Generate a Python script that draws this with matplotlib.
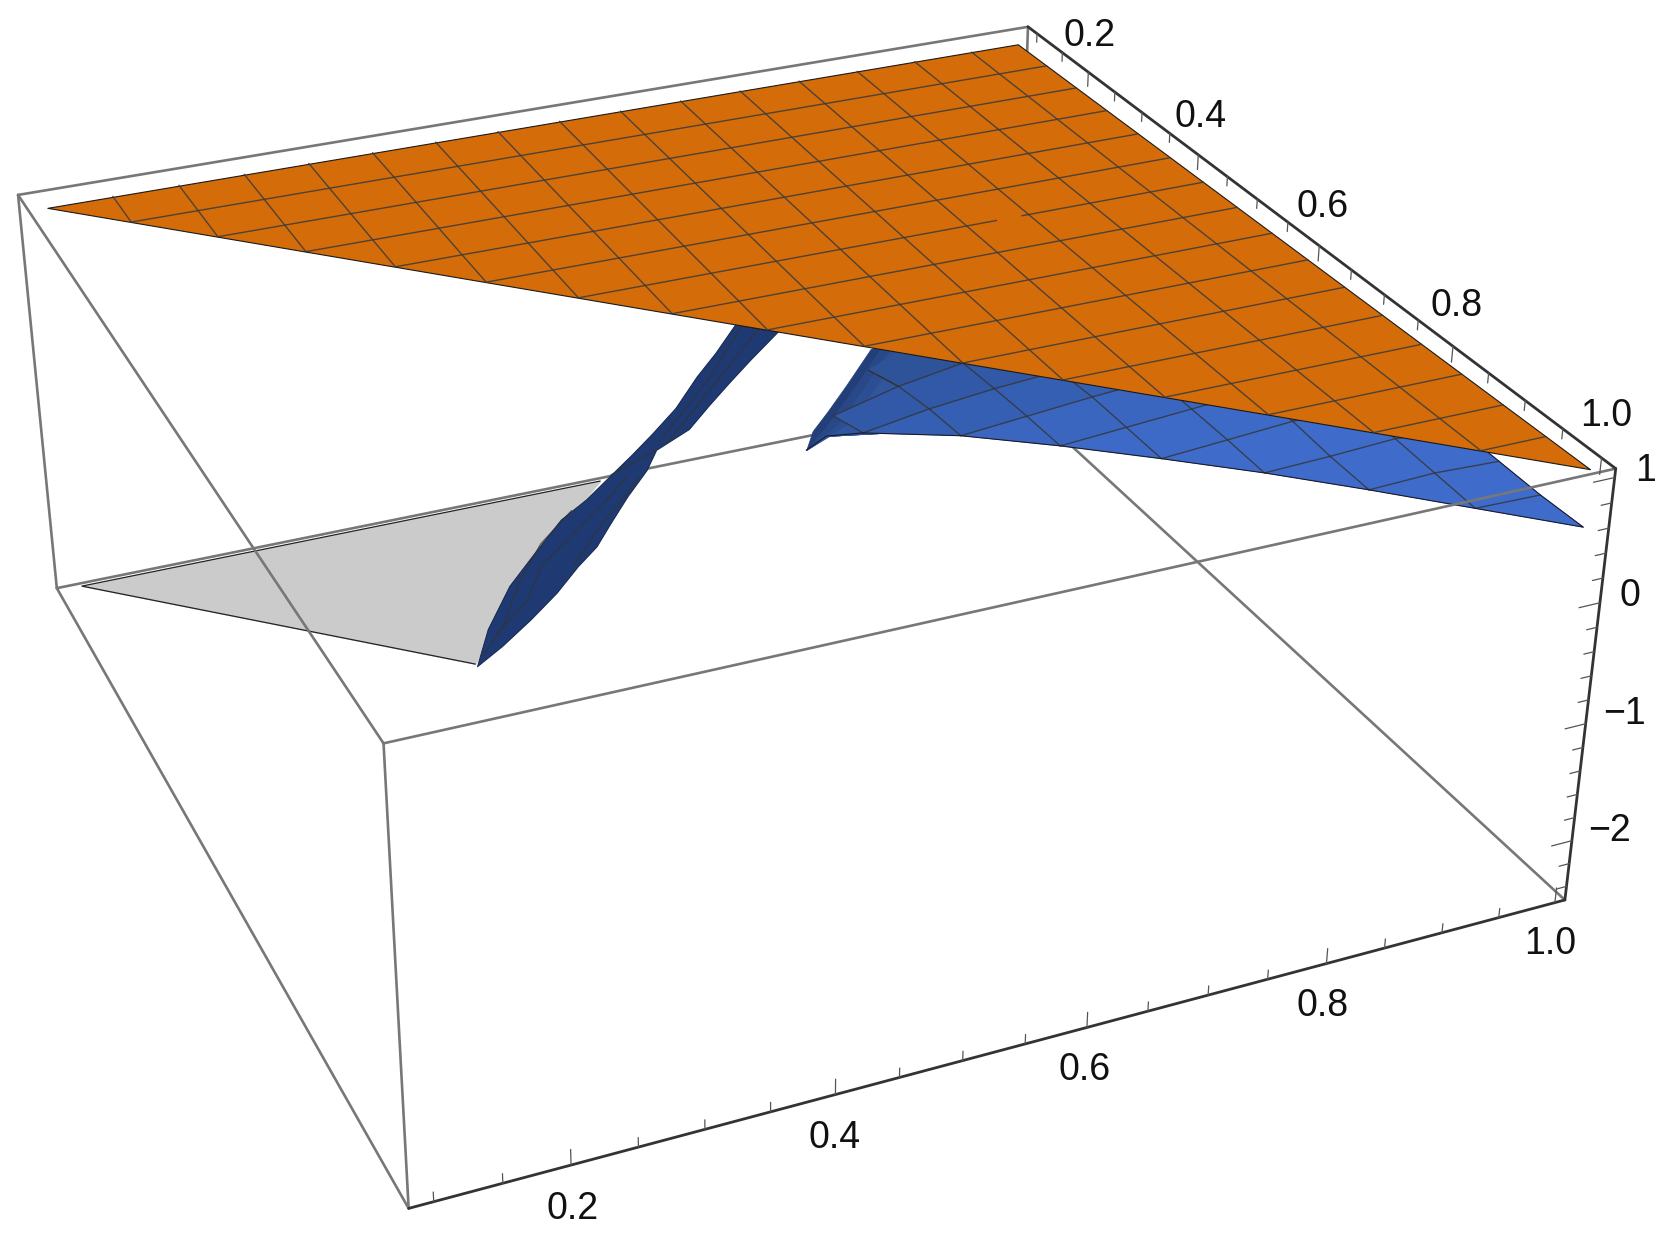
import matplotlib
matplotlib.use('Agg')
import matplotlib.pyplot as plt
import numpy as np
from mpl_toolkits.mplot3d import proj3d
from mpl_toolkits.mplot3d.art3d import Poly3DCollection

W, H = 1670, 1241

# axis ranges
x_lim = (0.082, 1.018)
y_lim = (0.082, 1.009)
z_lim = (-2.52, 1.07)

# tick positions and labels
xy_minor = [0.1, 0.15, 0.25, 0.3, 0.35, 0.45, 0.5, 0.55, 0.65, 0.7, 0.75, 0.85, 0.9, 0.95]
xy_major = [0.2, 0.4, 0.6, 0.8, 1.0]
xy_labels = ['0.2', '0.4', '0.6', '0.8', '1.0']
z_minor = [-2.4, -2.2, -1.8, -1.6, -1.4, -1.2, -0.8, -0.6, -0.4, -0.2, 0.2, 0.4, 0.6, 0.8]
z_major = [-2, -1, 0, 1]
z_labels = ['\u22122', '\u22121', '0', '1']

# mesh levels of both surfaces, index 0 and 16 are the domain edges
mesh = [0.1, 0.15625, 0.2125, 0.26875, 0.325, 0.38125, 0.4375, 0.49375, 0.55,
        0.60625, 0.6625, 0.71875, 0.775, 0.83125, 0.8875, 0.94375, 1.0]

# upper surface, z over y >= x
orange_z = 1.0
orange_x = [0.101, 0.1, 1.0]
orange_y = [0.101, 0.99, 1.0]
orange_gap = (0.802, 0.825)

# lower surface, z at x = mesh[k], y = mesh[k + row], first k of each row below
blue_start = [9, 8, 8, 7, 7]
blue_rows = [
    [0.28, 0.40, 0.46, 0.50, 0.53, 0.54, 0.54, 0.54],
    [0.17, 0.37, 0.45, 0.50, 0.54, 0.55, 0.56, 0.53],
    [0.31, 0.43, 0.50, 0.54, 0.58, 0.58, 0.54],
    [0.20, 0.40, 0.47, 0.54, 0.58, 0.59, 0.55],
    [0.45, 0.45, 0.50, 0.55, 0.58, 0.58],
]
blue_shades = {7: '#2f5399', 8: '#3259a8', 9: '#355fb2', 10: '#3a66c0', 11: '#3d6ac7'}
# outline of the part that runs out to the tip
blue_tip_x = [0.573, 0.585, 0.618, 0.5474, 0.5285, 0.5019, 0.4687]
blue_tip_y = [0.573, 0.585, 0.618, 0.5898, 0.6111, 0.6392, 0.676]
blue_tip_z = [0.05, 0.20, 0.31, 0.06, 0.10, 0.15, 0.25]
tip_shift = [0.0, 0.010, 0.020, 0.032]
tip_shades = ['#233f7a', '#284888', '#2c4f93', '#3056a0']

# steep ribbon along the diagonal x = y, both edges as (t, z)
ribbon_left_t = [0.366, 0.374, 0.389, 0.406, 0.423, 0.439, 0.455, 0.468, 0.481, 0.495, 0.508, 0.519, 0.531]
ribbon_left_z = [-2.45, -2.08, -1.64, -1.29, -0.95, -0.73, -0.47, -0.26, -0.04, 0.21, 0.51, 0.73, 1.00]
ribbon_right_t = [0.383, 0.402, 0.419, 0.433, 0.445, 0.454, 0.465, 0.477, 0.483, 0.503, 0.515, 0.527, 0.540, 0.556]
ribbon_right_z = [-2.21, -1.91, -1.62, -1.34, -1.13, -0.90, -0.63, -0.37, -0.18, 0.05, 0.28, 0.50, 0.73, 1.00]
ribbon_mesh = [
    ([0.370, 0.385, 0.395, 0.41, 0.43], [-2.35, -2.0, -1.6, -1.2, -0.85]),
    ([0.38, 0.40, 0.41, 0.425, 0.44, 0.455, 0.465], [-2.1, -1.75, -1.4, -1.15, -0.9, -0.65, -0.45]),
    ([0.43, 0.445, 0.46, 0.472], [-1.35, -1.0, -0.7, -0.45]),
    ([0.485, 0.50, 0.515, 0.535], [-0.1, 0.2, 0.5, 1.0]),
    ([0.49, 0.505, 0.52, 0.545], [-0.1, 0.2, 0.5, 1.0]),
    ([0.455, 0.483], [-0.47, -0.18]),
]

# clipped part on the floor
gray_x = [0.1, 0.362, 0.255, 0.16, 0.1]
gray_y = [0.1, 0.366, 0.44, 0.525, 0.58]
gray_z = -2.45

plt.rcParams['font.family'] = ['Liberation Sans', 'DejaVu Sans']

fig = plt.figure(figsize=(W / 100, H / 100), dpi=100)
S, cx, cy = 1673.7, 739.49, 556.68
ax = fig.add_axes([(cx - S / 2) / W, (H - cy - S / 2) / H, S / W, S / H], projection='3d', computed_zorder=False)
ax.set_xlim(*x_lim)
ax.set_ylim(*y_lim)
ax.set_zlim(*z_lim)
ax.view_init(elev=28.93, azim=-23.589, roll=-0.014)
ax.set_proj_type('persp', focal_length=0.43927)
ax.set_box_aspect((0.99854, 1, 0.4003))
ax.set_axis_off()


def line(xs, ys, zs, color, lw, zorder, alpha=1.0):
    ax.plot(xs, ys, zs, color=color, lw=lw, zorder=zorder, alpha=alpha, clip_on=False, solid_capstyle='round')


def polys(verts, colors, zorder, edge=None, lw=0.5):
    pc = Poly3DCollection(verts, facecolors=colors, edgecolors=edge if edge else colors, linewidths=lw, zorder=zorder)
    pc.set_clip_on(False)
    ax.add_collection3d(pc, autolim=False)


def label(x, y, z, s):
    # placed through the 3d projection, drawn as plain axes text
    px, py, _ = proj3d.proj_transform(x, y, z, ax.get_proj())
    ax.text2D(px, py, s, transform=ax.transData, fontsize=27, ha='center', va='center', color='#111111')


x0, x1 = x_lim
y0, y1 = y_lim
z0, z1 = z_lim
BOX = '#777777'
AXIS = '#333333'

# box edges behind the surfaces
line([x0, x0], [y0, y1], [z0, z0], BOX, 1.9, 1)
line([x0, x1], [y1, y1], [z0, z0], BOX, 1.9, 1)
line([x0, x0], [y1, y1], [z0, z1], BOX, 1.9, 1)
line([x0, x0], [y0, y1], [z1, z1], BOX, 1.9, 1)
line([x0, x0], [y0, y0], [z0, z1], BOX, 1.9, 1)
line([x0, x1], [y0, y0], [z0, z0], BOX, 1.9, 1)

# floor patch
polys([list(zip(gray_x, gray_y, [gray_z] * len(gray_x)))], ['#cbcbcb'], 2)
line([gray_x[1], gray_x[0], gray_x[4]], [gray_y[1], gray_y[0], gray_y[4]], [gray_z] * 3, '#222222', 0.9, 2)

# lower surface
blue = {}
for r, (start, row) in enumerate(zip(blue_start, blue_rows)):
    for i, z in enumerate(row):
        blue[(start + i, r)] = z


def node(k, r):
    return (mesh[k], mesh[k + r], blue[(k, r)])


verts, cols = [], []
for k in range(7, 16):
    for r in range(0, 5):
        if r == 0:
            if (k, 1) in blue and (k, 0) in blue and (k + 1, 0) in blue:
                verts.append([node(k, 0), node(k, 1), node(k + 1, 0)])
                cols.append(blue_shades.get(k, '#3f6ccb'))
        elif all(n in blue for n in [(k, r), (k + 1, r - 1), (k + 1, r), (k, r + 1)]):
            verts.append([node(k, r), node(k + 1, r - 1), node(k + 1, r), node(k, r + 1)])
            cols.append(blue_shades.get(k, '#3f6ccb'))

# tip part gets darker towards its free edge
for shift, shade in zip(tip_shift, tip_shades):
    tip = list(zip(blue_tip_x[:3], blue_tip_y[:3], blue_tip_z[:3]))
    tip += [node(9, 0), node(9, 1), node(8, 1), node(8, 2), node(7, 3), node(7, 4)]
    tip += [(x, y + shift, z) for x, y, z in zip(blue_tip_x[:2:-1], blue_tip_y[:2:-1], blue_tip_z[:2:-1])]
    polys([tip], [shade], 3)
polys(verts, cols, 4)

# mesh on the lower surface
for k in range(8, 16):
    pts = [node(k, r) for r in range(0, 5) if (k, r) in blue]
    line(*zip(*pts), '#333333', 1.0, 5, 0.8)
line([mesh[7], mesh[8]], [mesh[10], mesh[10]], [blue[(7, 3)], blue[(8, 2)]], '#333333', 1.0, 5, 0.8)
for j in range(8, 16):
    pts = [node(j - r, r) for r in range(0, 4) if (j - r, r) in blue]
    if len(pts) > 1:
        line(*zip(*pts), '#333333', 1.0, 5, 0.8)

# lower surface outline
edge_pts = list(zip(blue_tip_x[:2], blue_tip_y[:2], blue_tip_z[:2])) + [node(k, 0) for k in range(9, 17)]
edge_pts += [node(15, 1), node(14, 2), node(13, 3)]
line(*zip(*edge_pts), '#1a1a2a', 0.8, 5)

# ribbon
rib = [(t, t, z) for t, z in zip(ribbon_left_t, ribbon_left_z)]
rib += [(t, t, z) for t, z in zip(ribbon_right_t[::-1], ribbon_right_z[::-1])]
polys([rib], ['#1f3a72'], 4.5, edge='#15264d', lw=0.7)
for ts, zs in ribbon_mesh:
    line(ts, ts, zs, '#333333', 0.9, 5, 0.75)

# upper surface
polys([list(zip(orange_x, orange_y, [orange_z] * 3))], ['#d46c0a'], 6, edge='#1a1a1a', lw=0.8)
for c in mesh[1:16]:
    y_end = np.interp(c, orange_x[1:], orange_y[1:])
    if c == mesh[6]:
        line([c, c], [c, orange_gap[0]], [orange_z] * 2, '#3a3a3a', 1.0, 7, 0.85)
        line([c, c], [orange_gap[1], y_end], [orange_z] * 2, '#3a3a3a', 1.0, 7, 0.85)
    else:
        line([c, c], [c, y_end], [orange_z] * 2, '#3a3a3a', 1.0, 7, 0.85)
    line([orange_x[1], c], [c, c], [orange_z] * 2, '#3a3a3a', 1.0, 7, 0.85)

# box edges in front
line([x0, x1], [y0, y0], [z1, z1], BOX, 1.9, 8)
line([x1, x1], [y0, y1], [z1, z1], BOX, 1.9, 8)
line([x1, x1], [y0, y0], [z0, z1], BOX, 1.9, 8)
line([x1, x1], [y0, y1], [z0, z0], AXIS, 2.0, 8)
line([x0, x1], [y1, y1], [z1, z1], AXIS, 2.0, 8)
line([x1, x1], [y1, y1], [z0, z1], AXIS, 2.0, 8)

# ticks
TICK = '#555555'
for v in xy_major + xy_minor:
    n = 0.13 if v in xy_major else 0.08
    line([v, v], [y1, y1], [z1, z1 - n], TICK, 0.9, 9)
    line([x1, x1], [v, v], [z0, z0 + n], TICK, 0.9, 9)
for v in z_major + z_minor:
    n = 0.018 if v in z_major else 0.009
    line([x1, x1], [y1, y1 - n], [v, v], TICK, 0.9, 9)

# tick labels
for v, s in zip(xy_major, xy_labels):
    label(v, y1, z1 + 0.33, s)
    label(x1, v, z0 - 0.37, s)
for v, s in zip(z_major, z_labels):
    label(x1, y1 + (0.026 if len(s) == 1 else 0.034), v, s)

fig.savefig('out.png', dpi=100)
